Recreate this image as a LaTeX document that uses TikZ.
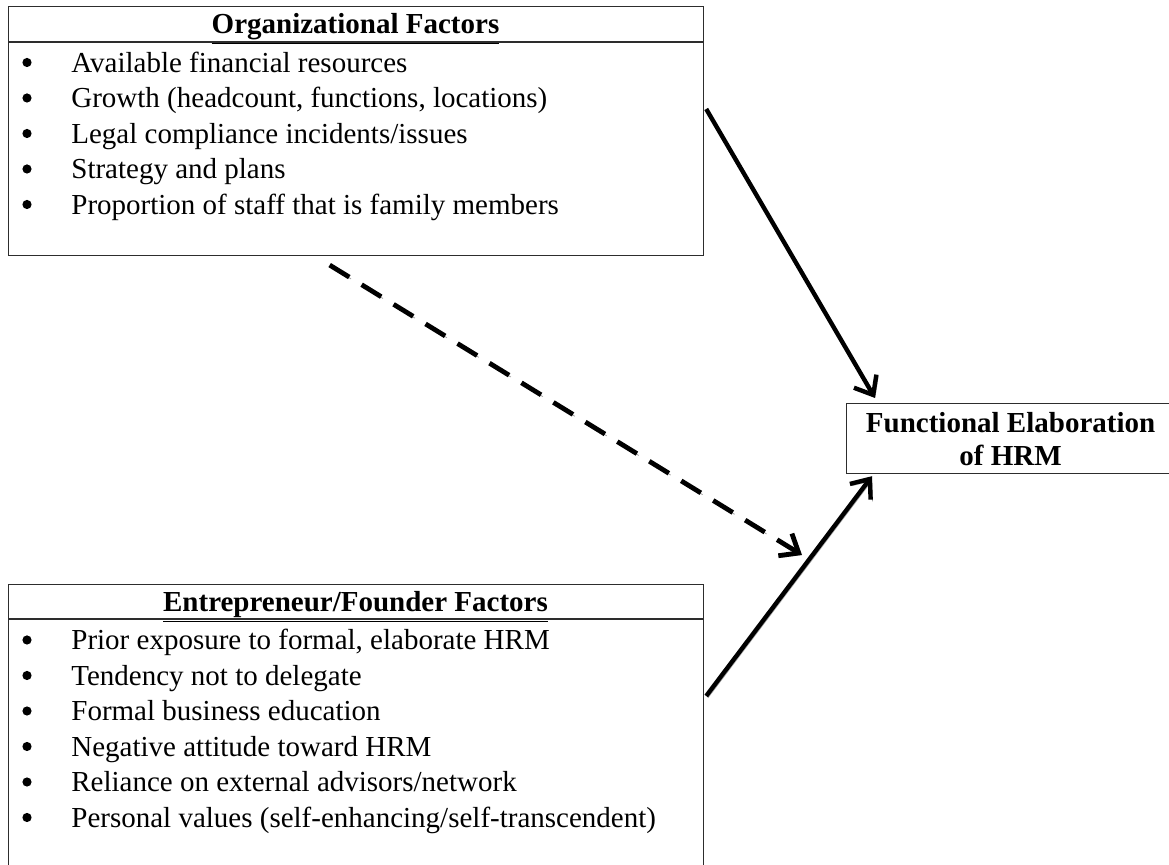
\documentclass[tikz,border=0pt]{standalone}
\usepackage{fontspec}
\setmainfont{Liberation Serif}
\usepackage{xcolor}
\usepackage{tikz}
\usetikzlibrary{arrows.meta, positioning, calc}
\definecolor{boxgray}{RGB}{45, 45, 45}
\definecolor{shadowgray}{RGB}{165, 165, 165}

\tikzset{
    factorbox/.style={draw=boxgray, line width=0.6pt, anchor=north west, inner sep=0pt},
    headtext/.style={font=\fontsize{14.5pt}{16.5pt}\selectfont\bfseries, anchor=base, inner sep=0pt},
    itemtext/.style={font=\fontsize{14.5pt}{16.5pt}\selectfont, anchor=base west, inner sep=0pt},
    itembullet/.style={circle, fill=black, inner sep=0pt, minimum size=4.6pt},
    linkarrow/.style={line width=2.2pt, -{Straight Barb[length=8pt, width=13pt]},
        preaction={draw=shadowgray, transform canvas={shift={(0.9pt,-0.9pt)}}}},
    % tip at the start, so the dash pattern begins at the arrowhead
    dasharrow/.style={line width=2.4pt, dash pattern=on 11.5pt off 7.25pt,
        {Straight Barb[length=8pt, width=13pt]}-,
        preaction={draw=shadowgray, dash pattern=on 11.5pt off 7.25pt, transform canvas={shift={(0.9pt,-0.9pt)}}}}
}

\begin{document}
\begin{tikzpicture}[x=0.5pt, y=-0.5pt]
    \useasboundingbox (0,0) rectangle (1169,865);

    % Organizational factors
    \node[factorbox, minimum width=347.5pt, minimum height=124.5pt] (org) at (8,6) {};
    \draw[boxgray, line width=0.6pt] ([yshift=-18pt]org.north west) -- ([yshift=-18pt]org.north east);
    \node[headtext] (orghead) at (355.5,34) {\underline{Organizational Factors}};
    \foreach \txt [count=\i] in {Available financial resources,
        {Growth (headcount, functions, locations)},
        Legal compliance incidents/issues,
        Strategy and plans,
        Proportion of staff that is family members} {
        \node[itembullet] (orgb\i) at (27,{27+35.5*\i}) {};
        \node[itemtext] (orgi\i) at (71,{37+35.5*\i}) {\txt};
    }

    % Entrepreneur/founder factors
    \node[factorbox, minimum width=347.5pt, minimum height=143pt] (found) at (8,584) {};
    \draw[boxgray, line width=0.6pt] ([yshift=-17.5pt]found.north west) -- ([yshift=-17.5pt]found.north east);
    \node[headtext] (foundhead) at (355.5,612) {\underline{Entrepreneur/Founder Factors}};
    \foreach \txt [count=\i] in {{Prior exposure to formal, elaborate HRM},
        Tendency not to delegate,
        Formal business education,
        Negative attitude toward HRM,
        Reliance on external advisors/network,
        Personal values (self-enhancing/self-transcendent)} {
        \node[itembullet] (foundb\i) at (27,{604.5+35.5*\i}) {};
        \node[itemtext] (foundi\i) at (71,{614.5+35.5*\i}) {\txt};
    }

    % Outcome
    \node[factorbox, minimum width=164pt, minimum height=35pt, align=center,
        font=\fontsize{14.5pt}{16.5pt}\selectfont\bfseries] (hrm) at (846,403) {Functional Elaboration\\of HRM};

    % Links
    \draw[linkarrow] ([shift={(2,103)}]org.north east) -- ([shift={(29,-5)}]hrm.north west);
    \draw[linkarrow] ([shift={(2,112)}]found.north east) -- ([shift={(26,2)}]hrm.south west);
    \coordinate (dashend) at (802,555);
    \draw[dasharrow] (dashend) -- ([shift={(-29.5,7)}]org.south);
\end{tikzpicture}
\end{document}
